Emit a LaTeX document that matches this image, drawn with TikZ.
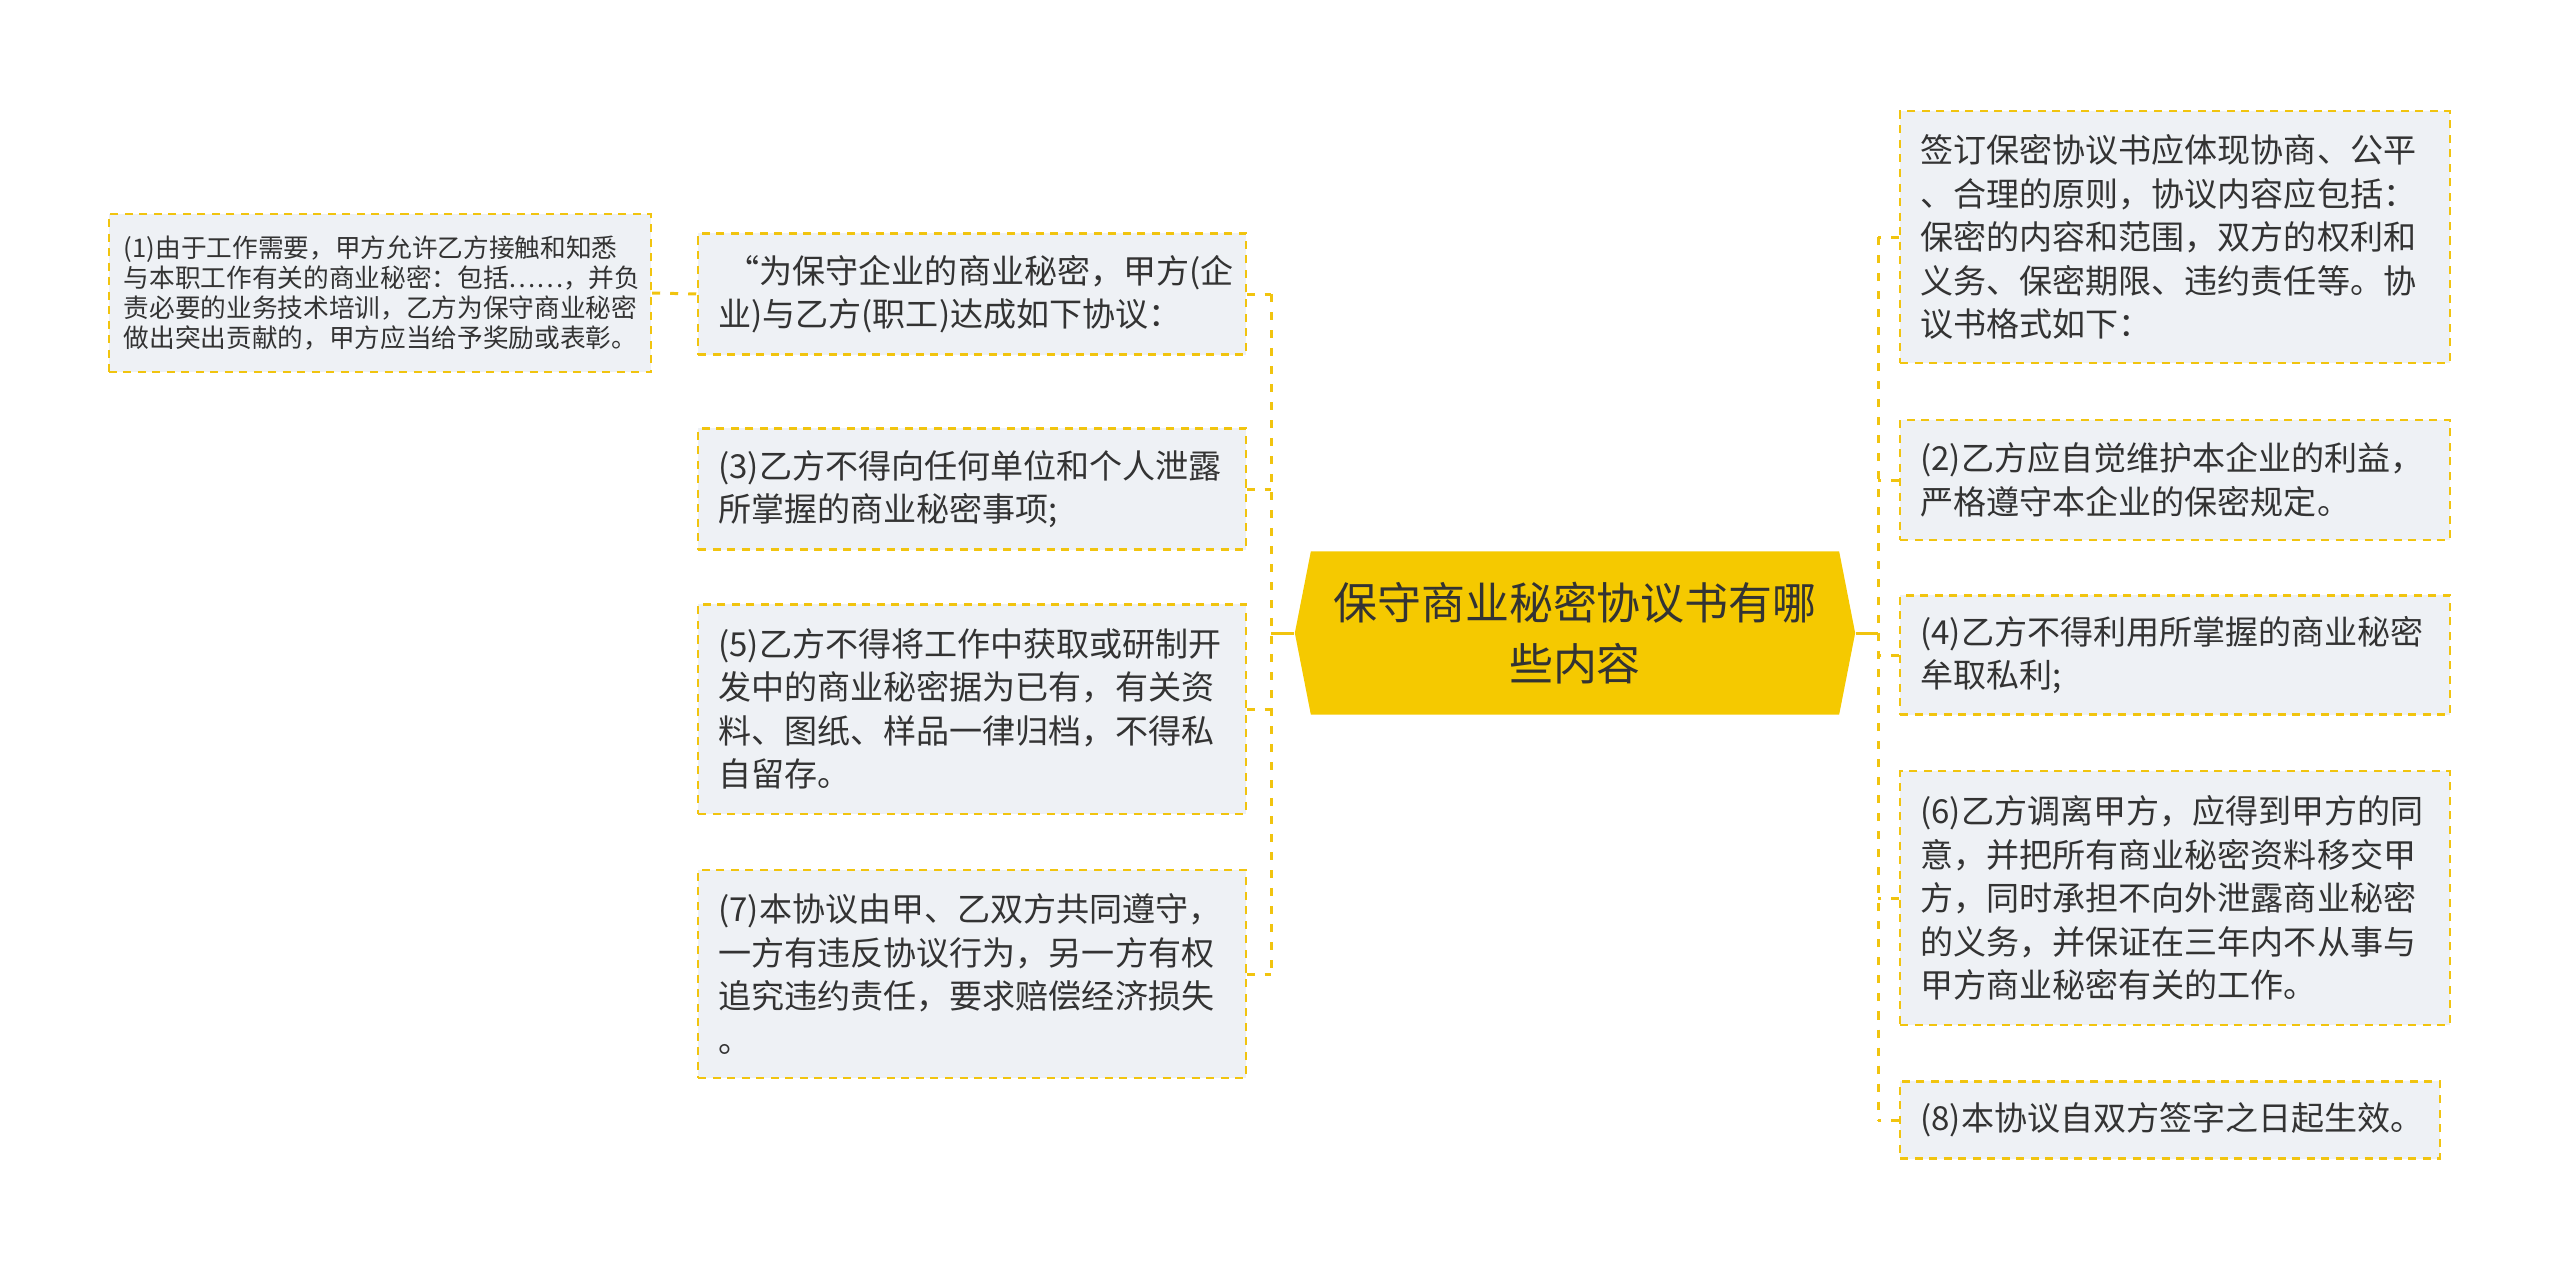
\documentclass[tikz,border=0pt]{standalone}
\usepackage{fontspec}
\usepackage{tikz}
\usetikzlibrary{shapes.symbols}
\newfontfamily\cjk{Noto Sans CJK SC}
\definecolor{gold}{HTML}{F1C40F}
\definecolor{rootfill}{HTML}{F5C900}
\definecolor{boxfill}{HTML}{EEF1F5}
\definecolor{ink}{HTML}{333333}

\begin{document}
\begin{tikzpicture}[x=0.01cm,y=-0.01cm,
  leaf/.style={rectangle,draw=gold,fill=boxfill,line width=0.6pt,
    dash pattern=on 0.08cm off 0.065cm,text=ink,align=left,inner xsep=0.2cm,
    font=\cjk\fontsize{9.4pt}{12.35pt}\selectfont},
  twig/.style={draw=gold,line width=0.85pt,dash pattern=on 0.08cm off 0.1cm},
  trunk/.style={draw=gold,line width=0.85pt}]
\useasboundingbox (0,0) rectangle (2560,1269);

\node[signal,signal to=west and east,signal pointer angle=157.8,fill=rootfill,
  minimum width=5.6cm,minimum height=1.63cm,inner sep=0pt,align=center,text=ink,
  font=\cjk\fontsize{12.5pt}{17.3pt}\selectfont] (root) at (1575,633)
  {保守商业秘密协议书有哪\\些内容};

% left side
\node[leaf,minimum width=5.47cm,minimum height=1.21cm,text width=5.07cm] (intro) at (972,294)
  {\hspace*{0.25em}“为保守企业的商业秘密，甲方(企\\业)与乙方(职工)达成如下协议：};
\node[leaf,minimum width=5.42cm,minimum height=1.58cm,text width=5.12cm,inner xsep=0.15cm,
  font=\cjk\fontsize{7.3pt}{8.6pt}\selectfont] (item1) at (380,293)
  {(1)由于工作需要，甲方允许乙方接触和知悉\\与本职工作有关的商业秘密：包括……，并负\\责必要的业务技术培训，乙方为保守商业秘密\\做出突出贡献的，甲方应当给予奖励或表彰。};
\node[leaf,minimum width=5.47cm,minimum height=1.21cm,text width=5.07cm] (item3) at (972,489)
  {(3)乙方不得向任何单位和个人泄露\\所掌握的商业秘密事项;};
\node[leaf,minimum width=5.47cm,minimum height=2.09cm,text width=5.07cm] (item5) at (972,709)
  {(5)乙方不得将工作中获取或研制开\\发中的商业秘密据为已有，有关资\\料、图纸、样品一律归档，不得私\\自留存。};
\node[leaf,minimum width=5.47cm,minimum height=2.08cm,text width=5.07cm] (item7) at (972,974)
  {(7)本协议由甲、乙双方共同遵守，\\一方有违反协议行为，另一方有权\\追究违约责任，要求赔偿经济损失\\。};

% right side
\node[leaf,minimum width=5.49cm,minimum height=2.51cm,text width=5.09cm] (principle) at (2175,237)
  {签订保密协议书应体现协商、公平\\、合理的原则，协议内容应包括：\\保密的内容和范围，双方的权利和\\义务、保密期限、违约责任等。协\\议书格式如下：};
\node[leaf,minimum width=5.49cm,minimum height=1.20cm,text width=5.09cm] (item2) at (2175,480)
  {(2)乙方应自觉维护本企业的利益，\\严格遵守本企业的保密规定。};
\node[leaf,minimum width=5.49cm,minimum height=1.19cm,text width=5.09cm] (item4) at (2175,655)
  {(4)乙方不得利用所掌握的商业秘密\\牟取私利;};
\node[leaf,minimum width=5.49cm,minimum height=2.53cm,text width=5.09cm] (item6) at (2175,898)
  {(6)乙方调离甲方，应得到甲方的同\\意，并把所有商业秘密资料移交甲\\方，同时承担不向外泄露商业秘密\\的义务，并保证在三年内不从事与\\甲方商业秘密有关的工作。};
\node[leaf,minimum width=5.39cm,minimum height=0.77cm,text width=4.99cm] (item8) at (2170,1120)
  {(8)本协议自双方签字之日起生效。};

\coordinate (lbus) at (1271,633);
\coordinate (rbus) at (1878,633);

\draw[trunk] (root.west) -- (lbus);
\draw[twig] (lbus |- intro.east) -- (lbus |- item7.east);
\foreach \n in {intro,item3,item5,item7}
  \draw[twig] (\n.east) -- (lbus |- \n.east);
\draw[twig] (item1.east) -- (intro.west);

\draw[trunk] (root.east) -- (rbus);
\draw[twig] (rbus |- principle.west) -- (rbus |- item8.west);
\foreach \n in {principle,item2,item4,item6,item8}
  \draw[twig] (\n.west) -- (rbus |- \n.west);
\end{tikzpicture}
\end{document}
